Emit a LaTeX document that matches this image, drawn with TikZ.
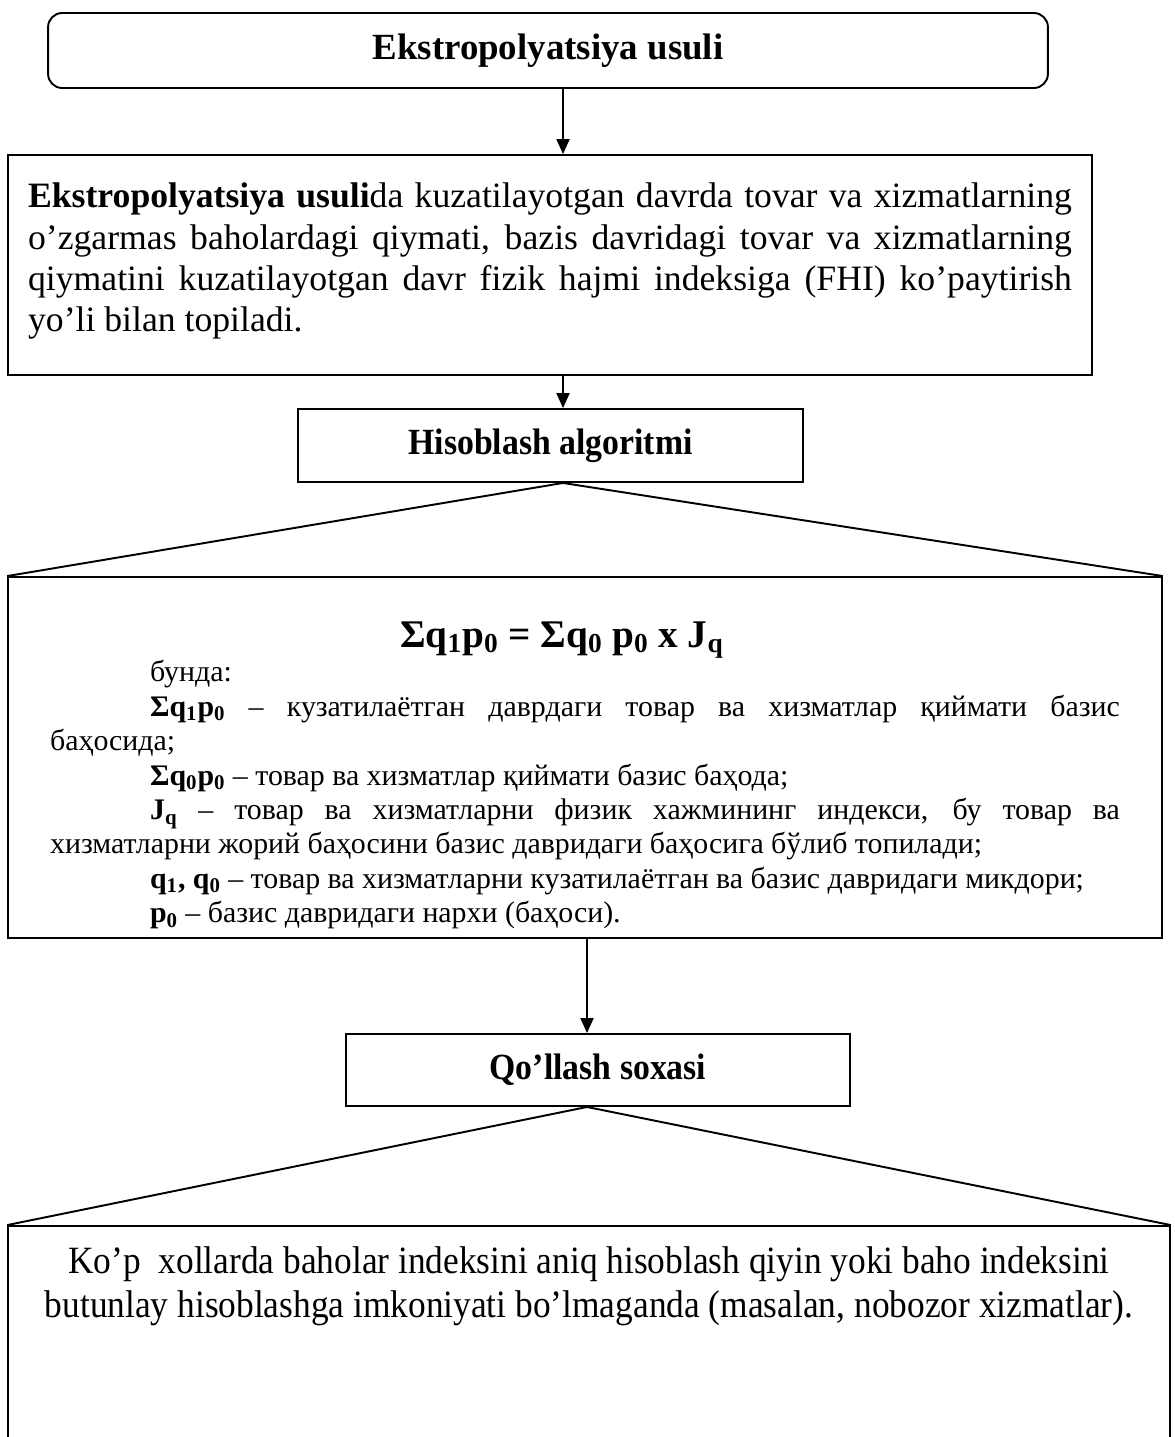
\documentclass[tikz,border=0pt]{standalone}
\usepackage{fontspec}
\setmainfont{Liberation Serif}
\newfontfamily\narrowserif[FakeStretch=0.915]{Liberation Serif}
\usetikzlibrary{arrows.meta,positioning}

\begin{document}
\begin{tikzpicture}[x=0.02cm,y=-0.02cm,line width=1.1pt]
  \tikzstyle{frame}=[draw,rectangle,inner sep=0pt,align=center]
  \tikzstyle{heading}=[frame,font=\bfseries\fontsize{21}{24}\selectfont]
  \tikzstyle{subhead}=[frame,font=\narrowserif\bfseries\fontsize{21}{24}\selectfont]
  \tikzstyle{bodytext}=[inner sep=0pt,align=justify]
  \tikzstyle{arr}=[-{Triangle[length=3mm,width=2.6mm]}]
  \clip (0,0) rectangle (1175,1437);
  % Vertical axes of the arrows
  \coordinate (axisA) at (563,0);
  \coordinate (axisB) at (587,0);
  % Method heading and its description
  \node[heading,rounded corners=8pt,minimum width=20cm,minimum height=1.5cm] (method) at (548,50.5) {Ekstropolyatsiya usuli};
  \node[frame,minimum width=21.68cm,minimum height=4.4cm] (descr) at (550,265) {};
  \node[bodytext,text width=20.88cm,font=\fontsize{20.3}{23.5}\selectfont,below=0.56cm of descr.north] (descrtext)
    {\textbf{Ekstropolyatsiya usuli}da kuzatilayotgan davrda tovar va xizmatlarning\linebreak
     o’zgarmas baholardagi qiymati, bazis davridagi tovar va xizmatlarning\linebreak
     qiymatini kuzatilayotgan davr fizik hajmi indeksiga (FHI) ko’paytirish\linebreak
     yo’li bilan topiladi.};
  % Calculation algorithm
  \node[subhead,minimum width=10.1cm,minimum height=1.46cm] (algo) at (550.5,445.5) {Hisoblash algoritmi};
  \node[frame,minimum width=23.08cm,minimum height=7.22cm] (calc) at (585,757.5) {};
  \node[inner sep=0pt,font=\bfseries\fontsize{22.3}{24}\selectfont] (formula) at (562,640)
    {Σq\textsubscript{1}p\textsubscript{0} = Σq\textsubscript{0} p\textsubscript{0} x J\textsubscript{q}};
  \node[bodytext,text width=21.4cm,font=\fontsize{17}{19.6}\selectfont,below=0mm of formula.south -| calc] (legend)
    {\hspace*{2cm}бунда:\\
     \hspace*{2cm}\textbf{Σq\textsubscript{1}p\textsubscript{0}} – кузатилаётган даврдаги товар ва хизматлар қиймати базис\linebreak
     баҳосида;\\
     \hspace*{2cm}\textbf{Σq\textsubscript{0}p\textsubscript{0}} – товар ва хизматлар қиймати базис баҳода;\\
     \hspace*{2cm}\textbf{J\textsubscript{q}} – товар ва хизматларни физик хажмининг индекси, бу товар ва\linebreak
     хизматларни жорий баҳосини базис давридаги баҳосига бўлиб топилади;\\
     \hspace*{2cm}\textbf{q\textsubscript{1}, q\textsubscript{0}} – товар ва хизматларни кузатилаётган ва базис давридаги микдори;\\
     \hspace*{2cm}\textbf{p\textsubscript{0}} – базис давридаги нархи (баҳоси).};
  % Field of application
  \node[subhead,minimum width=10.08cm,minimum height=1.44cm] (usage) at (598,1070) {Qo’llash soxasi};
  \node[frame,minimum width=23.24cm,minimum height=8cm] (cases) at (589,1426) {};
  \node[inner sep=0pt,align=center,font=\narrowserif\fontsize{22}{25}\selectfont,below=0.42cm of cases.north] (casestext)
    {Ko’p~ xollarda baholar indeksini aniq hisoblash qiyin yoki baho indeksini\\
     butunlay hisoblashga imkoniyati bo’lmaganda (masalan, nobozor xizmatlar).};
  % Arrows between the boxes
  \draw[arr] (method.south -| axisA) -- (descr.north -| axisA);
  \draw[arr] (descr.south -| axisA) -- (algo.north -| axisA);
  \draw[arr] (calc.south -| axisB) -- (usage.north -| axisB);
  % Fans under the headings
  \draw (algo.south -| axisA) -- (calc.north west);
  \draw (algo.south -| axisA) -- (calc.north east);
  \draw (usage.south -| axisB) -- (cases.north west);
  \draw (usage.south -| axisB) -- (cases.north east);
\end{tikzpicture}
\end{document}
